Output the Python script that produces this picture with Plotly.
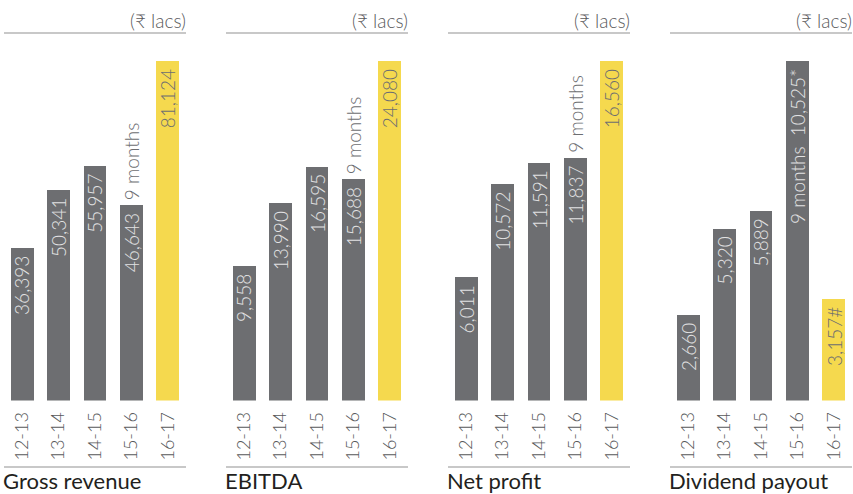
import plotly.graph_objects as go

years = ["12-13", "13-14", "14-15", "15-16", "16-17"]
titles = ["Gross revenue", "EBITDA", "Net profit", "Dividend payout"]
gross_revenue = [36393, 50341, 55957, 46643, 81124]
ebitda = [9558, 13990, 16595, 15688, 24080]
net_profit = [6011, 10572, 11591, 11837, 16560]
dividend = [2660, 5320, 5889, 10525, 3157]
series = [gross_revenue, ebitda, net_profit, dividend]
suffixes = [["", "", "", "", ""], ["", "", "", "", ""], ["", "", "", "", ""], ["", "", "", "*", "#"]]
prefix_inside = [["", "", "", "", ""], ["", "", "", "", ""], ["", "", "", "", ""], ["", "", "", "9 months  ", ""]]
note_outside = ["9 months", "9 months", "9 months", ""]
unit = "(₹ lacs)"

GRAY = "#6d6e71"
YELLOW = "#f5d94e"
FONT = "Lato"
W, H = 853, 494

domains_px = [(4, 186), (226, 408), (448, 630), (670, 852)]
y_bottom = (H - 400.5) / H
y_top = (H - 61) / H

fig = go.Figure()
annotations = []
shapes = []
for i, vals in enumerate(series):
    n = i + 1
    xa = "x" if n == 1 else f"x{n}"
    ya = "y" if n == 1 else f"y{n}"
    colors = [GRAY] * 4 + [YELLOW]
    fig.add_trace(go.Bar(x=years, y=vals, marker=dict(color=colors, line=dict(width=0)),
                         width=0.63, xaxis=xa, yaxis=ya, hoverinfo="skip"))
    d0, d1 = domains_px[i]
    fig.layout[f"xaxis{'' if n == 1 else n}"] = dict(
        domain=[d0 / W, d1 / W], range=[-0.5, 4.5], anchor=ya, showgrid=False, zeroline=False,
        showline=False, ticks="", tickangle=-90, ticklabelstandoff=7,
        tickfont=dict(family=FONT, size=18, color="#58595b", weight=300), automargin=False, fixedrange=True)
    fig.layout[f"yaxis{'' if n == 1 else n}"] = dict(
        domain=[y_bottom, y_top], range=[0, max(vals)], anchor=xa, visible=False, fixedrange=True)
    for j, v in enumerate(vals):
        txt = f"{prefix_inside[i][j]}{v:,}{suffixes[i][j]}"
        annotations.append(dict(x=years[j], y=v, xref=xa, yref=ya, text=txt, textangle=-90,
                                xanchor="center", yanchor="top", yshift=-6, showarrow=False,
                                font=dict(family=FONT, size=19, weight=300,
                                          color="#e2e2e3" if j < 4 else GRAY)))
    if note_outside[i]:
        annotations.append(dict(x=years[3], y=vals[3], xref=xa, yref=ya, text=note_outside[i],
                                textangle=-90, xanchor="center", yanchor="bottom", yshift=3,
                                showarrow=False, font=dict(family=FONT, size=19, weight=300, color=GRAY)))
    annotations.append(dict(x=1, y=(H - 20) / H, xref=f"{xa} domain", yref="paper", text=unit,
                            xanchor="right", yanchor="middle", showarrow=False, xshift=2,
                            font=dict(family=FONT, size=19, weight=300, color="#58595b")))
    annotations.append(dict(x=0, y=(H - 480) / H, xref=f"{xa} domain", yref="paper", text=titles[i],
                            xanchor="left", yanchor="middle", showarrow=False, xshift=-2,
                            borderpad=0, font=dict(family=FONT, size=22, color="#231f20")))
    for yy in [(H - 33) / H, (H - 467) / H]:
        shapes.append(dict(type="line", xref=f"{xa} domain", yref="paper", x0=0, x1=1, y0=yy, y1=yy,
                           line=dict(color="#c8c8c8", width=2)))

fig.update_layout(width=W, height=H, margin=dict(l=0, r=0, t=0, b=0), showlegend=False,
                  plot_bgcolor="white", paper_bgcolor="white", annotations=annotations,
                  shapes=shapes, bargap=0)
fig.write_html("out.html", config={"displayModeBar": False},
               post_script="document.body.style.margin='0';document.body.style.overflow='hidden';")
